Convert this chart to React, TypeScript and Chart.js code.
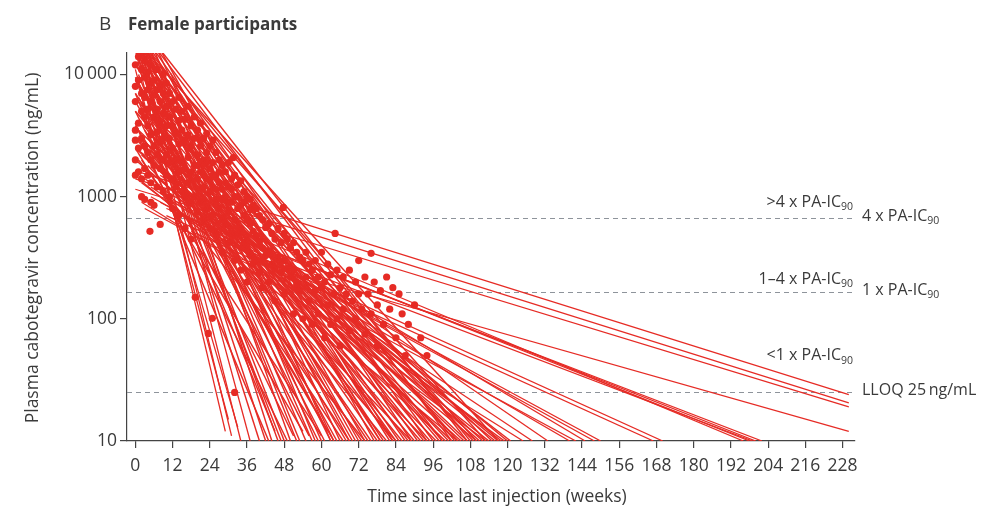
import { useEffect, useRef } from 'react';
import { Chart, registerables } from 'chart.js';

Chart.register(...registerables);

// ---- data ----
const xTicks = [0, 12, 24, 36, 48, 60, 72, 84, 96, 108, 120, 132, 144, 156, 168, 180, 192, 204, 216, 228];
const yTicks = [10, 100, 1000, 10000];

// reference levels (ng/mL)
const thresholdValues = [664, 166, 25];
const thresholdLabels = ['4 x PA-IC', '1 x PA-IC', 'LLOQ 25\u2009ng/mL'];
const thresholdSubs = ['90', '90', ''];
const zoneLabels = ['>4 x PA-IC', '1\u20134 x PA-IC', '<1 x PA-IC'];
const zoneLabelLevels = [897, 210, 50];

// individual decline lines: [startWeek, startConc, endWeek, endConc]
const steepLines = [
  [0, 16000, 29, 12], [1, 16000, 31, 11], [0, 11000, 30, 15], [2, 16000, 34, 10],
  [1, 8000, 33, 13], [3, 16000, 37, 10], [11.4, 10200, 63, 10],
];

const mediumLines = [
  [0, 16000, 40, 10], [2, 12000, 42, 10], [4, 16000, 44, 10], [0, 7000, 45, 12],
  [1, 10000, 47, 10], [3, 9000, 48, 10], [5, 16000, 50, 10], [0, 5000, 51, 11],
  [2, 14000, 53, 10], [4, 10000, 55, 10], [1, 6500, 56, 11], [6, 16000, 58, 10],
  [0, 9500, 59, 10], [3, 7500, 61, 10], [2, 4500, 62, 12], [5, 12000, 64, 10],
  [1, 8500, 65, 10], [7, 16000, 66, 10], [0, 3800, 67, 10], [4, 6000, 68, 10],
  [2, 11000, 70, 10], [6, 9000, 71, 10], [3, 13000, 72, 10], [1, 5000, 73, 10],
  [0, 7000, 75, 10], [5, 4000, 76, 10], [8, 16000, 77, 10], [2, 6000, 78, 10],
  [4, 8000, 80, 10], [1, 3000, 81, 10], [6, 12000, 82, 10], [3, 5000, 83, 10],
  [0, 9000, 84, 10], [7, 7000, 85, 10], [2, 4000, 86, 10], [5, 10000, 87, 10],
  [1, 6000, 88, 10], [4, 3500, 90, 10], [0, 5000, 92, 10], [3, 7000, 93, 10],
  [6, 4500, 95, 10], [3, 16000, 96, 10], [2, 3000, 97, 10], [1, 8000, 98, 10],
  [5, 5500, 99, 10], [0, 2500, 100, 10], [3, 4000, 101, 10], [2, 16000, 103, 10],
  [7, 6000, 104, 10], [2, 2200, 105, 10], [4, 3000, 106, 10], [8, 16000, 107, 10],
  [1, 3500, 107, 10], [4, 16000, 108, 10], [6, 5000, 109, 10], [0, 2000, 110, 10],
  [3, 2600, 111, 10], [5, 3200, 112, 10], [2, 1800, 114, 10], [8, 4000, 115, 10],
  [1, 2400, 116, 10], [4, 2000, 118, 10], [0, 1600, 119, 10], [3, 2800, 120, 10],
  [6, 1800, 121, 10],
];

const extraLines = [
  [0, 16000, 46, 10], [1, 16000, 52, 10], [2, 16000, 57, 10], [3, 16000, 60, 10],
  [0, 16000, 63, 10], [1, 16000, 69, 10], [2, 16000, 74, 10], [3, 16000, 79, 10],
  [4, 16000, 83, 10], [5, 16000, 89, 10], [1, 16000, 91, 10], [6, 16000, 94, 10],
  [0, 16000, 99, 10], [7, 16000, 102, 10], [1, 16000, 113, 10], [3, 16000, 117, 10],
  [0, 4000, 43, 10], [1, 3000, 49, 10], [0, 2500, 54, 12], [2, 2000, 60, 11],
  [0, 6000, 64, 10], [3, 3500, 69, 10], [1, 2000, 74, 10], [0, 12000, 79, 10],
  [2, 2600, 84, 10], [4, 1800, 89, 10], [0, 3000, 94, 10], [5, 2400, 102, 10],
  [1, 1400, 104, 10], [0, 12000, 110, 10], [2, 1300, 113, 10], [6, 2200, 117, 10],
];

const slowLines = [
  [0, 1625, 230, 24], [0, 1400, 230, 20.5], [0, 1150, 230, 19], [30, 330, 230, 12],
  [10, 800, 198, 10], [15, 700, 200, 10], [20, 600, 202, 10], [12, 900, 196, 10],
  [25, 480, 199, 10], [10, 700, 170, 10], [18, 520, 167, 10],
  [5, 1000, 148, 10], [8, 900, 150, 10], [10, 1100, 145, 10], [3, 800, 142, 10],
  [15, 700, 140, 10], [5, 1200, 128, 10], [8, 1500, 133, 10], [2, 900, 125, 10],
];

// observed concentrations: [week, conc]
const earlyPoints = [
  [0, 12000], [0, 8000], [0, 6000], [0, 3500], [0, 2900], [0, 2000], [0, 1500], [1, 14000], [1, 9000],
  [1, 4000], [1, 2500], [1, 1600], [2, 11000], [2, 7000], [2, 5000], [2, 3000], [2, 1400], [2, 1000],
  [3, 13000], [3, 9500], [3, 6500], [3, 4500], [3, 2600], [3, 1700], [3, 950], [4, 10500], [4, 7500],
  [4, 5200], [4, 3800], [4, 2300], [4, 1500], [4.7, 520], [5, 12000], [5, 8500], [5, 6000], [5, 3200],
  [5, 2000], [5, 1300], [5, 900], [6, 9000], [6, 6800], [6, 4500], [6, 2600], [6, 1800], [6, 850],
  [7, 11000], [7, 7500], [7, 5200], [7, 3400], [7, 2200], [7, 1200], [8, 8000], [8, 6000], [8, 4000],
  [8, 2800], [8, 1700], [8, 593], [9, 10000], [9, 7000], [9, 4800], [9, 3000], [9, 2000], [9, 1100],
  [10, 8500], [10, 5500], [10, 3800], [10, 2200], [10, 1500],
];

const midPoints = [
  [11, 7000], [11, 4500], [11, 3000], [11, 1900], [11, 1000], [12, 6000], [12, 3800], [12, 2500],
  [12, 1400], [12, 800], [13, 5200], [13, 3300], [13, 2000], [13, 1200], [14, 6500], [14, 4200],
  [14, 2700], [14, 1600], [14, 700], [15, 5000], [15, 3500], [15, 1900], [15, 1100], [16, 4300],
  [16, 2900], [16, 1700], [16, 1000], [16, 550], [17, 5500], [17, 3200], [17, 2100], [17, 1300],
  [18, 3800], [18, 2600], [18, 1600], [18, 900], [18, 450], [19, 4500], [19, 3000], [19, 1800],
  [19, 1000], [19.3, 150], [20, 3500], [20, 2200], [20, 1400], [20, 750], [21, 4000], [21, 2600],
  [21, 1600], [21, 900], [22, 3000], [22, 2000], [22, 1200], [22, 650], [23, 3300], [23, 2300],
  [23, 1400], [23, 800], [23.5, 76], [24, 2600], [24, 1700], [24, 1100], [24, 550], [24.8, 101],
  [25, 2900], [25, 1900], [25, 1200], [25, 700],
  [26, 2300], [26, 1500], [26, 950], [26, 500], [27, 2000], [27, 1300], [27, 800], [28, 1800],
  [28, 1150], [28, 650], [28, 350], [29, 1600], [29, 1000], [29, 600], [30, 1900], [30, 1200],
  [30, 750], [30, 420], [31, 1400], [31, 900], [31, 500], [31.6, 2090], [32, 1500], [32, 1000],
  [32, 650], [32, 300], [32, 25], [33, 1250], [33, 800], [33, 500], [34, 1350], [34, 850], [34, 550],
  [34, 250], [35, 1100], [35, 700], [35, 420], [36, 1000], [36, 650], [36, 400], [36, 200], [37, 950],
  [37, 600], [37, 330], [38, 850], [38, 520], [38, 280], [39, 800], [39, 480], [39, 300], [40, 700],
  [40, 430], [40, 240], [41, 650], [41, 380], [41, 180], [42, 560], [42, 330], [43, 600], [43, 360],
  [43, 200], [44, 500], [44, 280], [45, 450], [45, 260], [45, 140],
  [20, 1800], [22, 1500], [24, 1350], [26, 1150], [28, 950], [30, 900], [33, 1000], [35, 900],
  [37, 780], [27, 1600], [29, 1300], [31, 1150], [21, 2900], [23, 1900], [25, 1500],
];

const latePoints = [
  [46, 550], [46, 320], [47, 420], [47, 240], [47.7, 816], [48, 500], [48, 300], [48, 160], [49, 450],
  [49, 260], [50, 380], [50, 220], [51, 420], [51, 250], [51, 110], [52, 350], [52, 190], [53, 320],
  [53, 170], [54, 300], [54, 100], [55, 350], [55, 220], [56, 280], [56, 140], [57, 250], [57, 90],
  [58, 300], [58, 170], [59, 220], [59, 110], [60, 350], [60, 180], [61, 200], [61, 70], [62, 280],
  [62, 130], [63, 230], [63, 90], [64, 160], [64.4, 500], [65, 250], [65, 100], [66, 180], [66, 60],
  [67, 220], [67, 120], [68, 160], [69, 250], [69, 80], [70, 140], [71, 200], [71, 100], [72, 300],
  [72, 160], [73, 120], [74, 220], [74, 75], [75, 160], [76, 344], [76, 110], [77, 200], [78, 130],
  [78, 60], [79, 170], [80, 90], [81, 220], [82, 120], [83, 180], [84, 70], [85, 160], [86, 110],
  [87, 50], [88, 90], [90, 130], [92, 70], [94, 50],
];

const RED = '#e62b25';
const TEXT = '#3a3a3a';
const FONT = '"Open Sans", "Noto Sans", sans-serif';

function drawWithSub(ctx: CanvasRenderingContext2D, main: string, sub: string, x: number, y: number, align: 'left' | 'right') {
  const mainFont = `16px ${FONT}`;
  const subFont = `10.5px ${FONT}`;
  ctx.font = mainFont;
  const w1 = ctx.measureText(main).width;
  ctx.font = subFont;
  const w2 = sub ? ctx.measureText(sub).width : 0;
  const sx = align === 'right' ? x - w1 - w2 : x;
  ctx.textAlign = 'left';
  ctx.textBaseline = 'middle';
  ctx.font = mainFont;
  ctx.fillText(main, sx, y);
  if (sub) {
    ctx.font = subFont;
    ctx.fillText(sub, sx + w1, y + 5);
  }
}

const refPlugin = {
  id: 'refPlugin',
  beforeDatasetsDraw(chart: any) {
    const { ctx, chartArea, scales } = chart;
    ctx.save();
    ctx.strokeStyle = '#8e949b';
    ctx.lineWidth = 1.2;
    ctx.setLineDash([5, 4]);
    thresholdValues.forEach((v) => {
      const y = Math.round(scales.y.getPixelForValue(v)) + 0.5;
      ctx.beginPath();
      ctx.moveTo(chartArea.left, y);
      ctx.lineTo(chartArea.right, y);
      ctx.stroke();
    });
    ctx.restore();
  },
  afterDraw(chart: any) {
    const { ctx, chartArea, scales } = chart;
    ctx.save();
    ctx.fillStyle = TEXT;
    // title
    ctx.textBaseline = 'alphabetic';
    ctx.textAlign = 'left';
    ctx.font = `19px ${FONT}`;
    ctx.fillText('B', 99, 30);
    ctx.font = `bold 17px ${FONT}`;
    ctx.fillText('Female participants', 128, 30);
    // right labels
    thresholdValues.forEach((v, i) => {
      const y = scales.y.getPixelForValue(v);
      drawWithSub(ctx, thresholdLabels[i], thresholdSubs[i], chartArea.right + 7, y - 2, 'left');
    });
    zoneLabels.forEach((t, i) => {
      const y = scales.y.getPixelForValue(zoneLabelLevels[i]);
      drawWithSub(ctx, t, '90', chartArea.right - 2, y, 'right');
    });
    // axis titles
    ctx.font = `17.5px ${FONT}`;
    ctx.textAlign = 'center';
    ctx.textBaseline = 'middle';
    ctx.fillText('Time since last injection (weeks)', 497, 497);
    ctx.translate(33, 248);
    ctx.rotate(-Math.PI / 2);
    ctx.fillText('Plasma cabotegravir concentration (ng/mL)', 0, 0);
    ctx.restore();
  },
};

export default function App() {
  const canvasRef = useRef<HTMLCanvasElement | null>(null);

  useEffect(() => {
    if (!canvasRef.current) return;
    const makeLines = (list: number[][], width: number) =>
      list.map((l) => ({
        type: 'line' as const,
        data: [{ x: l[0], y: l[1] }, { x: l[2], y: l[3] }],
        borderColor: RED,
        borderWidth: width,
        pointRadius: 0,
        showLine: true,
        fill: false,
      }));
    const lineSets = [
      ...makeLines(steepLines, 1.3),
      ...makeLines(mediumLines, 1.45),
      ...makeLines(extraLines, 1.45),
      ...makeLines(slowLines, 1.25),
    ];
    const pointSet = {
      type: 'scatter' as const,
      data: [...earlyPoints, ...midPoints, ...latePoints].map((p) => ({ x: p[0], y: p[1] })),
      backgroundColor: RED,
      borderWidth: 0,
      pointRadius: 3.6,
    };
    const chart = new Chart(canvasRef.current, {
      type: 'scatter',
      data: { datasets: [...lineSets, pointSet] as any },
      options: {
        responsive: false,
        animation: false,
        layout: { padding: { top: 53, right: 143, left: 0, bottom: 0 } },
        plugins: { legend: { display: false }, tooltip: { enabled: false } },
        scales: {
          x: {
            type: 'linear',
            min: -2.7,
            max: 232,
            afterBuildTicks: (scale: any) => {
              scale.ticks = xTicks.map((v) => ({ value: v }));
            },
            afterFit: (scale: any) => {
              scale.height = 71;
            },
            ticks: {
              autoSkip: false,
              maxRotation: 0,
              color: TEXT,
              padding: 8,
              font: { family: FONT, size: 17.5 },
              callback: (v: any) => String(v),
            },
            grid: { display: true, drawOnChartArea: false, drawTicks: true, tickLength: 7, color: '#444', lineWidth: 1.2 },
            border: { display: true, color: '#444', width: 1.2 },
          },
          y: {
            type: 'logarithmic',
            min: 10,
            max: 15000,
            afterBuildTicks: (scale: any) => {
              scale.ticks = yTicks.map((v) => ({ value: v }));
            },
            afterFit: (scale: any) => {
              scale.width = 127;
            },
            ticks: {
              autoSkip: false,
              color: TEXT,
              padding: 3,
              font: { family: FONT, size: 17.5 },
              callback: (v: any) => (Number(v) === 10000 ? '10\u2009000' : String(v)),
            },
            grid: { display: true, drawOnChartArea: false, drawTicks: true, tickLength: 7, color: '#444', lineWidth: 1.2 },
            border: { display: true, color: '#444', width: 1.2 },
          },
        },
      },
      plugins: [refPlugin],
    });
    return () => chart.destroy();
  }, []);

  return (
    <div style={{ position: 'fixed', left: 0, top: 0, width: 998, height: 512, background: '#fff' }}>
      <canvas ref={canvasRef} width={998} height={512} style={{ display: 'block' }} />
    </div>
  );
}
